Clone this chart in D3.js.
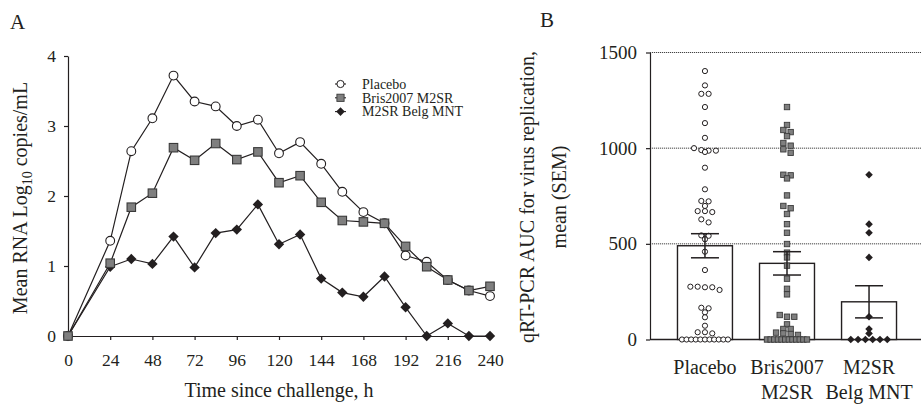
<!DOCTYPE html>
<html>
<head>
<meta charset="utf-8">
<script src="https://cdn.jsdelivr.net/npm/d3@7"></script>
<style>
  body { margin: 0; background: #fff; }
  svg text { font-family: "Liberation Serif", "Times New Roman", serif; fill: #231f20; }
</style>
</head>
<body>
<svg id="chart" width="921" height="405"></svg>
<script>
// panel A: mean viral RNA over time
var hours = [0, 24, 36, 48, 60, 72, 84, 96, 108, 120, 132, 144, 156, 168, 180, 192, 204, 216, 228, 240];
var placebo = [0, 1.36, 2.64, 3.11, 3.72, 3.35, 3.28, 3.0, 3.09, 2.61, 2.77, 2.46, 2.06, 1.77, 1.61, 1.15, 1.06, 0.80, 0.65, 0.57];
var bris = [0, 1.04, 1.84, 2.04, 2.69, 2.51, 2.75, 2.52, 2.63, 2.19, 2.29, 1.91, 1.65, 1.63, 1.61, 1.28, 0.99, 0.80, 0.65, 0.71];
var belg = [0, 0.99, 1.10, 1.03, 1.42, 0.98, 1.47, 1.52, 1.88, 1.31, 1.45, 0.82, 0.62, 0.56, 0.85, 0.41, 0, 0.18, 0, 0];
var seriesNames = ["Placebo", "Bris2007 M2SR", "M2SR Belg MNT"];
var xTicksA = [0, 24, 48, 72, 96, 120, 144, 168, 192, 216, 240];
var yTicksA = [0, 1, 2, 3, 4];

// panel B: AUC per subject, group mean and SEM
var groupLabels = [["Placebo"], ["Bris2007", "M2SR"], ["M2SR", "Belg MNT"]];
var aucMean = [490, 398, 197];
var aucSem = [63, 61, 84];
var aucPlacebo = [1403, 1328, 1284, 1284, 1215, 1131, 1054, 1000, 990, 987, 987, 980, 898, 785, 724, 722, 698,
  671, 671, 666, 628, 612, 544, 542, 524, 459, 363, 276, 276, 273, 273, 259, 166, 163, 142, 116, 72, 38, 38, 32,
  0, 0, 0, 0, 0, 0, 0, 0, 0, 0, 0];
var aucBris = [1215, 1121, 1095, 1084, 1063, 1027, 1013, 994, 976, 861, 858, 842, 753, 698, 686, 656, 603, 558,
  499, 454, 429, 386, 318, 265, 236, 128, 119, 119, 79, 55, 55, 36, 32, 29, 24,
  0, 0, 0, 0, 0, 0, 0, 0, 0, 0, 0, 0];
var aucBelg = [861, 603, 558, 429, 119, 55, 32, 0, 0, 0, 0, 0, 0];
var yTicksB = [0, 500, 1000, 1500];

var svg = d3.select("#chart");
var ink = "#231f20";

// ---------- panel A ----------
var xA = d3.scaleLinear().domain([0, 240]).range([68, 490]);
var yA = d3.scaleLinear().domain([0, 4]).range([336, 56]);

var gA = svg.append("g");

gA.append("g")
  .attr("transform", "translate(0,336)")
  .call(d3.axisBottom(xA).tickValues(xTicksA).tickFormat(d3.format("d")).tickSize(4).tickPadding(14).tickSizeOuter(0))
  .call(styleAxis, 17.5);

gA.append("g")
  .attr("transform", "translate(68,0)")
  .call(d3.axisLeft(yA).tickValues(yTicksA).tickFormat(d3.format("d")).tickSize(4).tickPadding(8).tickSizeOuter(0))
  .call(styleAxis, 17.5);

function styleAxis(g, fs) {
  g.select(".domain").attr("stroke", ink).attr("stroke-width", 1.2);
  g.selectAll(".tick line").attr("stroke", ink).attr("stroke-width", 1.2);
  g.selectAll(".tick text").attr("fill", ink).style("font-size", fs + "px");
}

var lineA = d3.line().x(function(d) { return xA(d[0]); }).y(function(d) { return yA(d[1]); });

var series = [
  { name: seriesNames[2], values: belg, kind: "diamond" },
  { name: seriesNames[0], values: placebo, kind: "circle" },
  { name: seriesNames[1], values: bris, kind: "square" }
];

series.forEach(function(s) {
  gA.append("path")
    .datum(d3.zip(hours, s.values))
    .attr("d", lineA)
    .attr("fill", "none")
    .attr("stroke", ink)
    .attr("stroke-width", 1.2);
});

function marker(sel, kind, big) {
  if (kind === "circle") {
    sel.append("circle").attr("r", big ? 4.4 : 2.6)
      .attr("fill", "#fff").attr("stroke", ink).attr("stroke-width", big ? 1.1 : 1);
  } else if (kind === "square") {
    var s = big ? 8.5 : 5.4;
    sel.append("rect").attr("x", -s / 2).attr("y", -s / 2).attr("width", s).attr("height", s)
      .attr("fill", "#7f7f7f").attr("stroke", "#3a3a3a").attr("stroke-width", big ? 1.1 : 0.9);
  } else {
    var h = big ? 5.2 : 3.8;
    sel.append("path").attr("d", "M0," + (-h) + "L" + h + ",0L0," + h + "L" + (-h) + ",0Z")
      .attr("fill", ink);
  }
}

series.forEach(function(s) {
  gA.append("g").selectAll("g")
    .data(d3.zip(hours, s.values))
    .join("g")
    .attr("transform", function(d) { return "translate(" + xA(d[0]) + "," + yA(d[1]) + ")"; })
    .each(function() { marker(d3.select(this), s.kind, true); });
});

// legend
var legend = gA.append("g").attr("transform", "translate(335,84)");
[{ n: seriesNames[0], k: "circle" }, { n: seriesNames[1], k: "square" }, { n: seriesNames[2], k: "diamond" }]
  .forEach(function(d, i) {
    var row = legend.append("g").attr("transform", "translate(0," + (i * 13.8) + ")");
    row.append("line").attr("x1", 0).attr("x2", 11).attr("stroke", ink).attr("stroke-width", 1.1);
    var m = row.append("g").attr("transform", "translate(5.5,0)");
    if (d.k === "circle") m.append("circle").attr("r", 3.6).attr("fill", "#fff").attr("stroke", ink).attr("stroke-width", 1);
    else if (d.k === "square") m.append("rect").attr("x", -3.6).attr("y", -3.6).attr("width", 7.2).attr("height", 7.2)
      .attr("fill", "#7f7f7f").attr("stroke", "#3a3a3a").attr("stroke-width", 0.9);
    else m.append("path").attr("d", "M0,-4.3L4.3,0L0,4.3L-4.3,0Z").attr("fill", ink);
    row.append("text").attr("x", 27).attr("y", 4.7).style("font-size", "14px").text(d.n);
  });

// titles
gA.append("text").attr("x", 10).attr("y", 29).style("font-size", "21px").text("A");

gA.append("text")
  .attr("x", 279).attr("y", 397)
  .attr("text-anchor", "middle")
  .style("font-size", "20px")
  .text("Time since challenge, h");

var yTitle = gA.append("text")
  .attr("transform", "translate(27,198) rotate(-90)")
  .attr("text-anchor", "middle")
  .style("font-size", "20px");
yTitle.append("tspan").text("Mean RNA Log");
yTitle.append("tspan").attr("dy", 5).style("font-size", "14px").text("10");
yTitle.append("tspan").attr("dy", -5).text(" copies/mL");

// ---------- panel B ----------
var xB = d3.scaleBand().domain([0, 1, 2]).range([650, 924]).paddingInner(0.33).paddingOuter(0.335);
var yB = d3.scaleLinear().domain([0, 1500]).range([339.5, 52.5]);

var gB = svg.append("g");

gB.append("g").selectAll("line")
  .data(yTicksB.filter(function(v) { return v > 0; }))
  .join("line")
  .attr("x1", 650).attr("x2", 921)
  .attr("y1", function(d) { return yB(d); }).attr("y2", function(d) { return yB(d); })
  .attr("stroke", "#444").attr("stroke-width", 1).attr("stroke-dasharray", "1.2,0.8");

gB.append("g")
  .attr("transform", "translate(650,0)")
  .call(d3.axisLeft(yB).tickValues(yTicksB).tickFormat(d3.format("d")).tickSize(4).tickPadding(9).tickSizeOuter(0))
  .call(styleAxis, 19);

gB.append("line").attr("x1", 650).attr("x2", 921).attr("y1", yB(0)).attr("y2", yB(0))
  .attr("stroke", ink).attr("stroke-width", 1.3);

// bars
gB.append("g").selectAll("rect")
  .data(aucMean)
  .join("rect")
  .attr("x", function(d, i) { return xB(i); })
  .attr("width", xB.bandwidth())
  .attr("y", function(d) { return yB(d); })
  .attr("height", function(d) { return yB(0) - yB(d); })
  .attr("fill", "#fff").attr("stroke", ink).attr("stroke-width", 1.4);

// beeswarm-like rows: values at (nearly) the same height are spread sideways
function swarm(values, maxW) {
  var sorted = values.slice().sort(d3.descending);
  var rows = [], cur = null;
  sorted.forEach(function(v) {
    var py = yB(v);
    if (cur && py - cur.y0 < 3.5) cur.items.push(py);
    else { cur = { y0: py, items: [py] }; rows.push(cur); }
  });
  var out = [];
  rows.forEach(function(r) {
    var n = r.items.length, s = n > 1 ? Math.min(7.3, maxW / (n - 1)) : 0;
    r.items.forEach(function(py, i) { out.push({ dx: (i - (n - 1) / 2) * s, y: py }); });
  });
  return out;
}

var dotGroups = [
  { vals: aucPlacebo, kind: "circle", w: 46 },
  { vals: aucBris, kind: "square", w: 40 },
  { vals: aucBelg, kind: "diamond", w: 40 }
];

dotGroups.forEach(function(grp, i) {
  var cx = xB(i) + xB.bandwidth() / 2;
  gB.append("g").selectAll("g")
    .data(swarm(grp.vals, grp.w))
    .join("g")
    .attr("transform", function(d) { return "translate(" + (cx + d.dx) + "," + d.y + ")"; })
    .each(function() { marker(d3.select(this), grp.kind, false); });
});

// error bars (mean +/- SEM)
aucMean.forEach(function(m, i) {
  var cx = xB(i) + xB.bandwidth() / 2;
  var eg = gB.append("g").attr("stroke", ink).attr("stroke-width", 1.5);
  eg.append("line").attr("x1", cx).attr("x2", cx).attr("y1", yB(m - aucSem[i])).attr("y2", yB(m + aucSem[i]));
  [m - aucSem[i], m + aucSem[i]].forEach(function(v) {
    eg.append("line").attr("x1", cx - 14).attr("x2", cx + 14).attr("y1", yB(v)).attr("y2", yB(v));
  });
});

// category labels
groupLabels.forEach(function(lines, i) {
  var cx = xB(i) + xB.bandwidth() / 2;
  var t = gB.append("text").attr("text-anchor", "middle").style("font-size", "20px");
  lines.forEach(function(l, j) {
    t.append("tspan").attr("x", cx).attr("y", 374 + j * 25).text(l);
  });
});

gB.append("text").attr("x", 540).attr("y", 27).style("font-size", "21px").text("B");

var yTitleB = gB.append("text")
  .attr("transform", "translate(534,197) rotate(-90)")
  .attr("text-anchor", "middle")
  .style("font-size", "20px");
yTitleB.append("tspan").attr("x", 0).attr("y", 0).text("qRT-PCR AUC for virus replication,");
yTitleB.append("tspan").attr("x", 0).attr("y", 32).text("mean (SEM)");
</script>
</body>
</html>
